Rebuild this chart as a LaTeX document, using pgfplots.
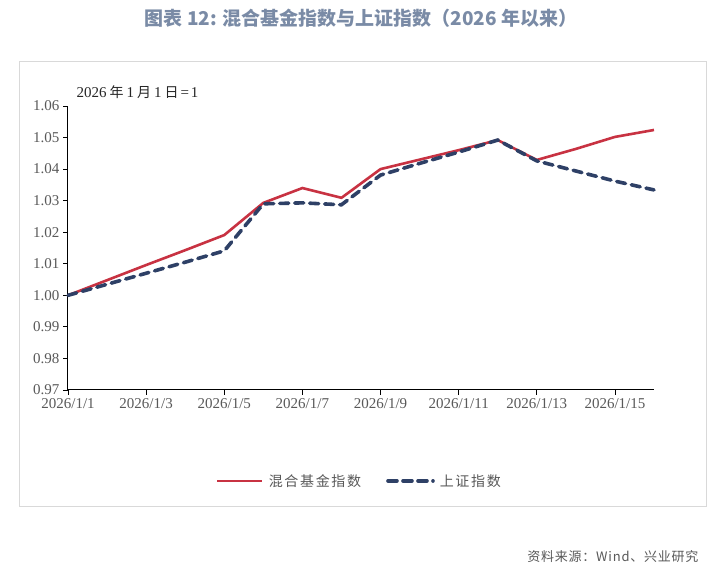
\documentclass[border=0pt]{standalone}
\usepackage{fontspec}
\setmainfont{Liberation Serif}
\newfontfamily\cjk{Noto Sans CJK SC}
\newfontfamily\cjkwide{Noto Sans CJK SC}[LetterSpace=12]
\newfontfamily\cjksrc{Noto Sans CJK SC}[LetterSpace=6]
\usepackage{pgfplots}
\pgfplotsset{compat=1.18}
\definecolor{mixred}{RGB}{200,50,66}
\definecolor{shblue}{RGB}{46,64,102}
\definecolor{titlegray}{RGB}{122,139,166}
\definecolor{ticktext}{RGB}{89,89,89}
\definecolor{framegray}{RGB}{217,217,217}

\begin{document}
\begin{tikzpicture}[x=1pt,y=1pt]
  % canvas and frame
  \fill[white] (0,0) rectangle (723,569);
  \draw[framegray, line width=1pt] (19,62) rectangle (706,507);

  % title
  \node[font=\cjk\bfseries\fontsize{19}{21}\selectfont, text=titlegray] at (361,551)
    {图表 12: 混合基金指数与上证指数（2026 年以来）};

  \begin{axis}[
    at={(68pt,179pt)},
    anchor=origin,
    scale only axis,
    width=586pt, height=284pt,
    xmin=1, xmax=16,
    ymin=0.97, ymax=1.06,
    axis x line=bottom, axis y line=left,
    axis line style={black, line width=1pt, -},
    xtick={1,3,5,7,9,11,13,15},
    xticklabels={2026/1/1,2026/1/3,2026/1/5,2026/1/7,2026/1/9,2026/1/11,2026/1/13,2026/1/15},
    ytick={0.97,0.98,...,1.065},
    yticklabel style={/pgf/number format/.cd, fixed, fixed zerofill, precision=2, assume math mode=true},
    tick align=outside,
    major tick length=5pt,
    tick style={black, line width=0.8pt},
    tick label style={font=\fontsize{15}{17}\selectfont, text=ticktext},
    clip=false,
    legend style={at={(0.5,-0.32)}, anchor=center, draw=none, fill=none,
      legend columns=2, font=\cjkwide\fontsize{14}{16}\selectfont, text=ticktext,
      nodes={inner xsep=5pt},
      /tikz/every even column/.append style={column sep=20pt}},
    legend image code/.code={\draw[#1] (0pt,0pt) -- (45pt,0pt);},
  ]
  \addplot[mixred, line width=2.6pt] coordinates {
    (1,1.0000) (2,1.0048) (3,1.0096) (4,1.0143) (5,1.0191) (6,1.0293)
    (7,1.0340) (8,1.0309) (9,1.0400) (10,1.0430) (11,1.0460) (12,1.0492)
    (13,1.0429) (14,1.0464) (15,1.0502) (16,1.0524)
  };
  \addlegendentry{混合基金指数}
  \addplot[shblue, line width=3.6pt, dash pattern=on 9pt off 6pt, line cap=round] coordinates {
    (1,1.0000) (2,1.0035) (3,1.0070) (4,1.0105) (5,1.0141) (6,1.0290)
    (7,1.0293) (8,1.0287) (9,1.0381) (10,1.0418) (11,1.0454) (12,1.0492)
    (13,1.0426) (14,1.0394) (15,1.0362) (16,1.0334)
  };
  \addlegendentry{上证指数}
  \end{axis}

  % base note
  \node[anchor=west, font=\fontsize{15}{17}\selectfont, text=black!85] at (73,477)
    {2026\hspace{3pt}{\cjk\fontsize{14}{15}\selectfont 年}\hspace{3pt}1\hspace{3pt}{\cjk\fontsize{14}{15}\selectfont 月}\hspace{3pt}1\hspace{3pt}{\cjk\fontsize{14}{15}\selectfont 日}\hspace{2pt}=\hspace{2pt}1};

  % source
  \node[anchor=east, font=\cjksrc\fontsize{13}{15}\selectfont, text=ticktext] at (702,12)
    {资料来源：Wind、兴业研究};
\end{tikzpicture}
\end{document}
